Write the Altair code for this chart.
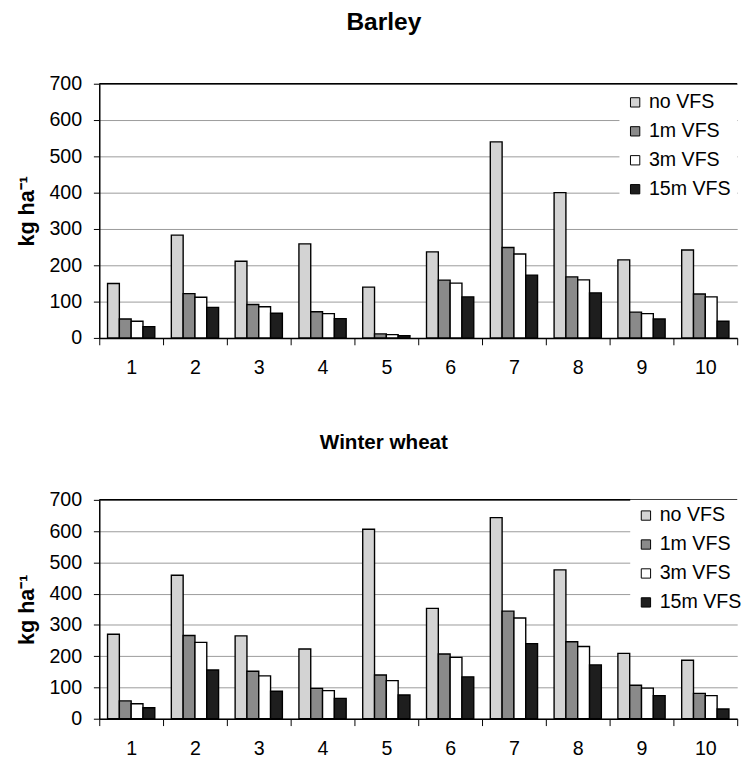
import altair as alt
import pandas as pd

sites = ["1", "2", "3", "4", "5", "6", "7", "8", "9", "10"]
series = ["no VFS", "1m VFS", "3m VFS", "15m VFS"]
colors = ["#d3d3d3", "#8a8a8a", "#ffffff", "#1e1e1e"]

barley_no = [150, 283, 211, 259, 140, 237, 540, 400, 215, 242]
barley_1m = [52, 122, 92, 72, 11, 159, 249, 168, 71, 121]
barley_3m = [46, 112, 86, 67, 9, 151, 231, 160, 67, 113]
barley_15m = [31, 84, 68, 53, 6, 113, 173, 124, 52, 46]

wheat_no = [270, 459, 265, 223, 606, 353, 643, 476, 209, 187]
wheat_1m = [57, 266, 152, 97, 140, 207, 344, 246, 107, 81]
wheat_3m = [48, 244, 137, 90, 122, 196, 322, 231, 98, 74]
wheat_15m = [35, 156, 88, 65, 76, 134, 240, 172, 74, 31]

y_ticks = [0, 100, 200, 300, 400, 500, 600, 700]
FONT = "Liberation Sans"


def make_df(cols):
    rows = []
    for s, vals in zip(series, cols):
        for site, v in zip(sites, vals):
            rows.append({"site": site, "series": s, "value": v})
    return pd.DataFrame(rows)


def y_axis():
    return alt.Axis(values=y_ticks, title="kg ha⁻¹", titleFontSize=22,
                    titleFont=FONT, titleFontWeight="bold", titleColor="black",
                    titlePadding=11, labelFontSize=20, labelFont=FONT,
                    labelColor="black", labelPadding=12, tickSize=6,
                    labelOverlap=False, labelFlush=False,
                    tickColor="black", domainColor="black", domainWidth=1.5,
                    grid=True, gridColor="#9a9a9a", gridWidth=1)


def panel(title, cols, height, title_size, title_offset, leg_x, leg_y):
    df = make_df(cols)
    yscale = alt.Scale(domain=[0, 700], nice=False)
    bars = alt.Chart(df).mark_bar(stroke="black", strokeWidth=1.4).encode(
        x=alt.X("site:N", sort=sites,
                scale=alt.Scale(paddingInner=0, paddingOuter=0),
                axis=alt.Axis(title=None, labelAngle=0, labelFontSize=20, labelFont=FONT,
                              labelColor="black", labelPadding=13, tickBand="extent",
                              tickSize=7, tickColor="black", tickWidth=1,
                              domainColor="black", domainWidth=1.5, grid=False)),
        xOffset=alt.XOffset("series:N", sort=series,
                            scale=alt.Scale(paddingInner=0, paddingOuter=0.7)),
        y=alt.Y("value:Q", scale=yscale, axis=y_axis()),
        color=alt.Color("series:N", sort=series,
                        scale=alt.Scale(domain=series, range=colors),
                        legend=alt.Legend(orient="none", legendX=leg_x, legendY=leg_y,
                                          title=None, fillColor="white", padding=6,
                                          symbolType="square", symbolSize=90,
                                          symbolStrokeColor="black", symbolStrokeWidth=1,
                                          symbolOpacity=1,
                                          labelFontSize=20, labelFont=FONT,
                                          labelColor="black", labelOffset=4,
                                          rowPadding=9.5)),
    )
    top = alt.Chart(pd.DataFrame({"v": [700]})).mark_rule(
        color="black", strokeWidth=1.5).encode(
        y=alt.Y("v:Q", scale=yscale, axis=y_axis()))
    return alt.layer(bars, top).properties(
        width=650, height=height,
        title=alt.TitleParams(title, fontSize=title_size, fontWeight="bold", font=FONT,
                              color="black", anchor="middle", offset=title_offset,
                              baseline="top", dx=-35),
    )


p1 = panel("Barley", [barley_no, barley_1m, barley_3m, barley_15m],
           259, 25, 40, 530, 3)
p2 = panel("Winter wheat", [wheat_no, wheat_1m, wheat_3m, wheat_15m],
           223, 21, 38, 541, 0)

chart = alt.vconcat(p1, p2, spacing=56).resolve_scale(color="independent").properties(
    padding={"left": 7, "top": -5, "right": 0, "bottom": 0}
).configure_view(stroke=None)

chart.save("out.html", embed_options={"renderer": "svg", "actions": False})
